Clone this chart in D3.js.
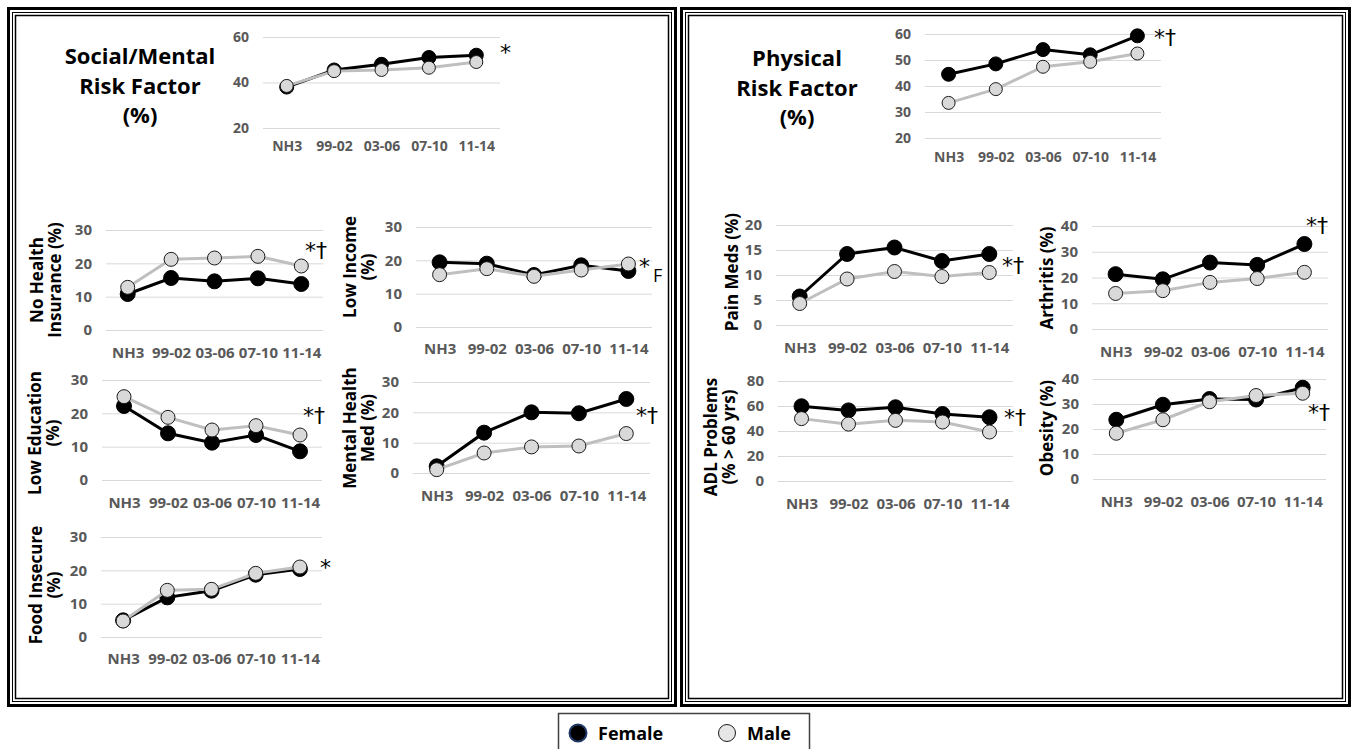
<!DOCTYPE html>
<html>
<head>
<meta charset="utf-8">
<script src="https://cdn.jsdelivr.net/npm/d3@7"></script>
<style>
  body { margin: 0; background: #fff; }
  svg { display: block; }
</style>
</head>
<body>
<div id="chart"></div>
<script>
const periods = ["NH3", "99-02", "03-06", "07-10", "11-14"];

// values (%)
const socialFemale = [38, 45.5, 48, 51, 52];
const socialMale = [38.5, 45, 45.5, 46.5, 49];
const physicalFemale = [44.5, 48.5, 54, 52, 59.3];
const physicalMale = [33.5, 38.8, 47.4, 49.3, 52.5];
const noInsFemale = [10.8, 15.6, 14.6, 15.5, 13.8];
const noInsMale = [12.8, 21.2, 21.6, 22.1, 19.2];
const lowIncFemale = [19.4, 19, 15.6, 18.5, 16.8];
const lowIncMale = [15.7, 17.5, 15.2, 17.1, 18.9];
const lowEduFemale = [22.2, 14, 11.2, 13.5, 8.6];
const lowEduMale = [25, 18.8, 15, 16.3, 13.5];
const mentalFemale = [2.2, 13.3, 20, 19.7, 24.4];
const mentalMale = [1.1, 6.6, 8.6, 8.9, 13];
const foodFemale = [5, 11.9, 13.9, 18.7, 20.4];
const foodMale = [4.8, 14, 14.3, 19.1, 21];
const painFemale = [5.7, 14.2, 15.5, 12.8, 14.2];
const painMale = [4.3, 9.2, 10.7, 9.7, 10.5];
const arthFemale = [21.3, 19.3, 25.8, 24.9, 33];
const arthMale = [13.8, 14.9, 18.1, 19.6, 22];
const adlFemale = [59.8, 56.5, 59, 53.6, 51];
const adlMale = [49.9, 45.5, 48.5, 47.2, 39.2];
const obeseFemale = [23.7, 29.7, 32, 31.8, 36.5];
const obeseMale = [18.3, 23.7, 30.9, 33.4, 34.3];

// tick labels
const ticks20to60 = [20, 40, 60];
const ticks20to60by10 = [20, 30, 40, 50, 60];
const ticks0to30 = [0, 10, 20, 30];
const ticks0to20 = [0, 5, 10, 15, 20];
const ticks0to40 = [0, 10, 20, 30, 40];
const ticks0to80 = [0, 20, 40, 60, 80];

const legendLabels = ["Female", "Male"];

const W = 1352, H = 749;
const font = '"Open Sans", sans-serif';

const svg = d3.select('#chart').append('svg')
    .attr('width', W)
    .attr('height', H)
    .style('font-family', font);

// panel frames (triple border)
const frame = (x, y, w, h) => {
    svg.append('rect').attr('x', x + 1.5).attr('y', y + 1.5).attr('width', w - 3).attr('height', h - 3)
        .attr('fill', 'none').attr('stroke', '#000').attr('stroke-width', 3);
    svg.append('rect').attr('x', x + 5.5).attr('y', y + 5.5).attr('width', w - 11).attr('height', h - 11)
        .attr('fill', 'none').attr('stroke', '#000').attr('stroke-width', 1);
    svg.append('rect').attr('x', x + 8.5).attr('y', y + 8.5).attr('width', w - 17).attr('height', h - 17)
        .attr('fill', 'none').attr('stroke', '#000').attr('stroke-width', 1.5);
};
frame(7, 7, 670, 700);
frame(680, 7, 671, 700);

// big panel titles
const bigTitle = (lines, cx, ys) => {
    lines.forEach((t, i) => {
        svg.append('text').attr('x', cx).attr('y', ys[i])
            .attr('text-anchor', 'middle')
            .attr('font-size', 22).attr('font-weight', 'bold')
            .text(t);
    });
};
bigTitle(["Social/Mental", "Risk Factor", "(%)"], 140, [64, 94, 123]);
bigTitle(["Physical", "Risk Factor", "(%)"], 797, [66, 96, 125]);

// chart layout: plot area corners, label gap, axis title position
const charts = [
    {fem: socialFemale, male: socialMale, ticks: ticks20to60, x0: 263, x1: 500, y0: 128, y1: 37, fs: 14, pad: 13, r: 7,
     title: [], sig: "*", sx: 500, sy: 60},
    {fem: physicalFemale, male: physicalMale, ticks: ticks20to60by10, x0: 925, x1: 1161, y0: 138, y1: 34, fs: 14, pad: 14, r: 7,
     title: [], sig: "*†", sx: 1154, sy: 45},
    {fem: noInsFemale, male: noInsMale, ticks: ticks0to30, x0: 106, x1: 323, y0: 330, y1: 230, fs: 15, pad: 17, r: 7.5,
     title: ["No Health", "Insurance (%)"], tx: 37, ty: 280, sig: "*†", sx: 305, sy: 258},
    {fem: lowIncFemale, male: lowIncMale, ticks: ticks0to30, x0: 416, x1: 652, y0: 327, y1: 227, fs: 15, pad: 16, r: 7.5,
     title: ["Low Income", "(%)"], tx: 350, ty: 267, sig: "*", sx: 639, sy: 274, sub: "F"},
    {fem: lowEduFemale, male: lowEduMale, ticks: ticks0to30, x0: 102, x1: 322, y0: 480, y1: 380, fs: 15, pad: 17, r: 7.5,
     title: ["Low Education", "(%)"], tx: 35, ty: 433, sig: "*†", sx: 303, sy: 423},
    {fem: mentalFemale, male: mentalMale, ticks: ticks0to30, x0: 413, x1: 650, y0: 473, y1: 382, fs: 15, pad: 17, r: 7.5,
     title: ["Mental Health", "Med (%)"], tx: 350, ty: 428, sig: "*†", sx: 636, sy: 423},
    {fem: foodFemale, male: foodMale, ticks: ticks0to30, x0: 101, x1: 322, y0: 637, y1: 537, fs: 15, pad: 16, r: 7.5,
     title: ["Food Insecure", "(%)"], tx: 36, ty: 585, sig: "*", sx: 320, sy: 575},
    {fem: painFemale, male: painMale, ticks: ticks0to20, x0: 776, x1: 1013, y0: 325, y1: 225, fs: 15, pad: 17, r: 7.5,
     title: ["Pain Meds (%)"], tx: 732, ty: 272, sig: "*†", sx: 1002, sy: 273},
    {fem: arthFemale, male: arthMale, ticks: ticks0to40, x0: 1092, x1: 1328, y0: 329, y1: 226, fs: 15, pad: 17, r: 7.5,
     title: ["Arthritis (%)"], tx: 1047, ty: 278, sig: "*†", sx: 1306, sy: 233},
    {fem: adlFemale, male: adlMale, ticks: ticks0to80, x0: 778, x1: 1013, y0: 481, y1: 381, fs: 15, pad: 17, r: 7.5,
     title: ["ADL Problems", "(% > 60 yrs)"], tx: 711, ty: 437, sig: "*†", sx: 1004, sy: 425},
    {fem: obeseFemale, male: obeseMale, ticks: ticks0to40, x0: 1093, x1: 1326, y0: 479, y1: 379, fs: 15, pad: 17, r: 7.5,
     title: ["Obesity (%)"], tx: 1047, ty: 428, sig: "*†", sx: 1308, sy: 420}
];

const drawChart = c => {
    const x = d3.scalePoint().domain(periods).range([c.x0, c.x1]).padding(0.5);
    const y = d3.scaleLinear()
        .domain([c.ticks[0], c.ticks[c.ticks.length - 1]])
        .range([c.y0, c.y1]);

    // gridlines + y tick labels
    const gy = svg.append('g')
        .attr('transform', `translate(${c.x0},0)`)
        .call(d3.axisLeft(y).tickValues(c.ticks).tickSize(-(c.x1 - c.x0)).tickPadding(14));
    gy.select('.domain').remove();
    gy.selectAll('line').attr('stroke', '#d9d9d9').attr('stroke-width', 1);
    gy.attr('font-family', font).attr('font-size', c.fs).attr('font-weight', 'bold');
    gy.selectAll('text').attr('fill', '#595959');

    // category labels
    const gx = svg.append('g')
        .attr('transform', `translate(0,${c.y0})`)
        .call(d3.axisBottom(x).tickSize(0).tickPadding(c.pad));
    gx.select('.domain').remove();
    gx.attr('font-family', font).attr('font-size', c.fs).attr('font-weight', 'bold');
    gx.selectAll('text').attr('fill', '#595959');

    const line = d3.line().x((d, i) => x(periods[i])).y(d => y(d));

    svg.append('path').datum(c.fem).attr('d', line)
        .attr('fill', 'none').attr('stroke', '#000').attr('stroke-width', 3);
    svg.append('g').selectAll('circle').data(c.fem).join('circle')
        .attr('cx', (d, i) => x(periods[i])).attr('cy', d => y(d)).attr('r', c.r)
        .attr('fill', '#000').attr('stroke', '#000');

    svg.append('path').datum(c.male).attr('d', line)
        .attr('fill', 'none').attr('stroke', '#bfbfbf').attr('stroke-width', 3);
    svg.append('g').selectAll('circle').data(c.male).join('circle')
        .attr('cx', (d, i) => x(periods[i])).attr('cy', d => y(d)).attr('r', c.r - 0.5)
        .attr('fill', '#d9d9d9').attr('stroke', '#1a1a1a').attr('stroke-width', 1);

    // axis title (rotated), line centres at tx, tx + 18
    if (c.title.length) {
        const t = svg.append('text')
            .attr('transform', `translate(${c.tx},${c.ty}) rotate(-90)`)
            .attr('text-anchor', 'middle')
            .attr('font-size', 17).attr('font-weight', 'bold');
        c.title.forEach((s, i) => {
            t.append('tspan').attr('x', 0).attr('dy', i === 0 ? 6 : 18).text(s);
        });
    }

    // significance marks
    svg.append('text').attr('x', c.sx).attr('y', c.sy)
        .attr('font-size', 22).attr('font-family', '"DejaVu Sans", sans-serif')
        .text(c.sig);
    if (c.sub) {
        svg.append('text').attr('x', c.sx + 14).attr('y', c.sy + 8)
            .attr('font-size', 18)
            .text(c.sub);
    }
};

charts.forEach(drawChart);

// legend
const leg = svg.append('g');
leg.append('rect').attr('x', 558.5).attr('y', 713.5).attr('width', 251).attr('height', 50)
    .attr('fill', '#fff').attr('stroke', '#404040').attr('stroke-width', 1.5);
leg.append('circle').attr('cx', 578).attr('cy', 733).attr('r', 8.5)
    .attr('fill', '#000').attr('stroke', '#1f3864').attr('stroke-width', 2);
leg.append('text').attr('x', 598).attr('y', 740).attr('font-size', 18).attr('font-weight', 'bold')
    .text(legendLabels[0]);
leg.append('circle').attr('cx', 727).attr('cy', 733).attr('r', 8.5)
    .attr('fill', '#e6e6e6').attr('stroke', '#1a1a1a').attr('stroke-width', 1);
leg.append('text').attr('x', 747).attr('y', 740).attr('font-size', 18).attr('font-weight', 'bold')
    .text(legendLabels[1]);
</script>
</body>
</html>
